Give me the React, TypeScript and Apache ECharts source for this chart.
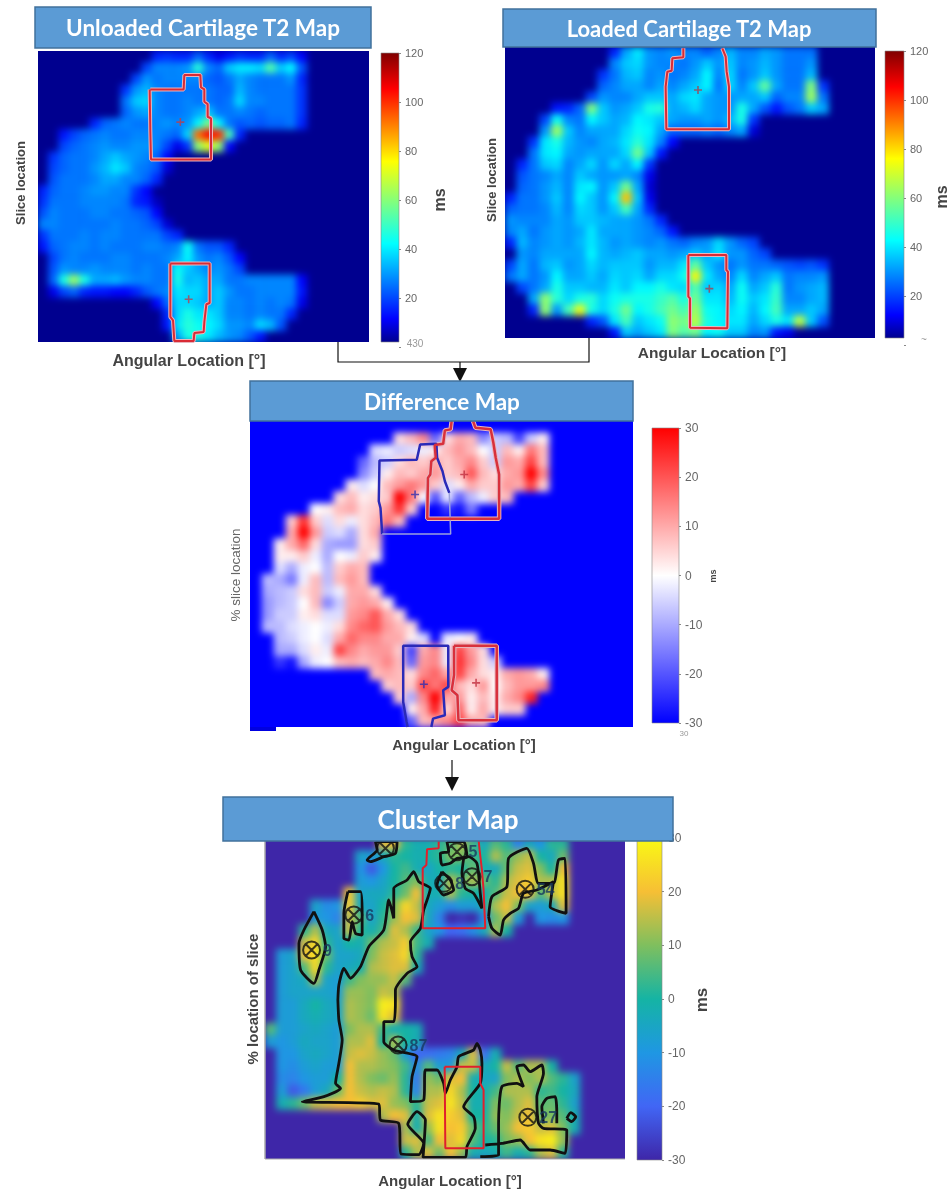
import React, { useEffect, useRef } from "react";
import * as echarts from "echarts";

const _ = null;
const COLS = 32;
const ROWS = 26;

const unloadedT2 = [
[_,_,_,_,_,_,_,_,_,_,_,14,16,14,14,22,14,8,12,16,14,14,22,14,18,10],
[_,_,_,_,_,_,_,_,_,_,18,26,26,26,28,46,26,22,34,38,38,36,52,34,40,20],
[_,_,_,_,_,_,_,_,_,18,28,24,26,26,26,26,22,20,24,30,26,24,24,24,28,14],
[_,_,_,_,_,_,_,_,16,28,32,26,24,24,24,24,24,22,22,32,26,24,24,24,24,16],
[_,_,_,_,_,_,_,_,24,34,36,26,24,24,26,24,24,22,24,36,26,26,24,24,24,16],
[_,_,_,_,_,_,_,_,22,28,30,26,24,24,26,30,34,24,24,26,24,22,24,24,24,16],
[_,_,_,_,_,14,22,24,26,24,24,26,28,26,28,40,58,40,24,20,22,20,22,22,24,14],
[_,_,12,18,22,24,26,24,24,26,26,26,24,22,36,92,104,100,50,14],
[_,_,18,22,24,26,28,26,26,28,28,26,18,8,16,60,72,60,10],
[_,16,22,24,24,26,30,34,30,28,26,22,10],
[_,18,22,24,24,28,32,38,34,26,24,20,6],
[_,20,24,24,24,26,30,30,26,26,22,14],
[14,22,24,24,26,28,28,26,26,16,10],
[16,24,24,24,26,26,26,26,24,14,12,4],
[20,26,24,24,24,26,26,24,24,22,20,10],
[26,26,24,24,24,24,24,26,24,24,22,18,6],
[16,24,24,24,26,24,26,26,24,24,24,24,18,14],
[12,22,24,26,26,24,26,24,24,24,26,26,24,26,42,24,20,20,14],
[_,18,24,26,24,24,24,26,26,24,24,24,26,30,40,28,24,26,20,10],
[_,20,28,26,26,28,26,26,26,24,26,24,24,42,34,30,26,28,24,18],
[_,22,44,62,44,30,30,32,28,26,26,24,24,44,32,34,30,30,24,24,26,26,26,26,26,10],
[_,8,18,22,14,12,12,10,10,14,20,24,26,38,36,36,30,34,28,24,24,26,26,26,26,12],
[_,_,_,_,_,_,_,_,_,_,_,10,22,36,36,34,30,34,26,26,24,26,24,26,24,8],
[_,_,_,_,_,_,_,_,_,_,_,_,14,36,44,38,38,34,26,26,24,26,24,24,14],
[_,_,_,_,_,_,_,_,_,_,_,_,12,38,46,42,40,36,28,28,26,36,32,20],
[_,_,_,_,_,_,_,_,_,_,_,_,_,30,44,44,38,32,28,26,20,12],
];

const loadedT2 = [
[_,_,_,_,_,_,_,_,_,14,30,38,28,26,28,26,26,22,26,32,26,26,30,28,24,24,24],
[_,_,_,_,_,_,_,_,_,26,34,36,28,26,26,24,28,34,28,34,26,28,32,28,24,24,28],
[_,_,_,_,_,_,_,_,16,24,32,34,26,28,24,26,30,40,26,36,24,28,34,28,24,24,32],
[_,_,_,_,_,_,_,_,22,26,30,30,26,30,26,30,34,40,24,36,26,34,54,30,24,24,58,16],
[_,_,_,_,_,_,_,18,28,26,26,30,34,34,30,36,38,30,28,28,30,30,34,22,26,26,62,24],
[_,_,_,_,12,14,22,58,34,28,30,34,44,46,30,32,36,30,28,28,44,30,20,12,20,24,34,30],
[_,_,_,18,42,26,24,40,34,30,32,40,38,34,30,28,28,30,28,32,44,16],
[_,_,_,28,62,34,26,30,30,30,36,42,40,30,22,22,22,24,22,26,30,6],
[_,_,16,38,44,32,28,26,30,32,38,46,38,26,10],
[_,_,24,38,40,30,28,30,30,30,36,56,34,12],
[_,14,24,34,36,26,30,36,28,36,30,40,16],
[_,20,24,26,30,26,34,30,28,28,30,26,8],
[_,22,24,28,32,26,38,40,28,34,56,30,6],
[14,24,24,28,34,26,40,34,28,40,82,34,8],
[22,24,24,26,32,26,36,34,28,34,50,30,14],
[28,26,26,26,30,28,34,34,32,30,30,28,24,14],
[26,30,24,28,30,28,30,38,30,30,30,28,26,22,12],
[14,32,26,28,30,28,32,38,32,28,30,28,26,28,24,22,26,28,36,28,22,18],
[_,28,26,30,30,30,30,40,32,30,32,34,30,30,28,30,34,30,38,28,28,22,18],
[18,30,24,32,34,28,30,36,32,34,34,34,28,32,32,38,54,34,28,24,28,24,24,22,20,18,20,16],
[24,30,24,28,40,30,30,34,30,36,34,36,30,36,36,42,76,38,30,26,36,26,30,34,24,26,26,28],
[_,18,24,30,44,34,34,32,32,38,34,40,40,44,38,36,52,34,36,30,42,30,34,46,24,28,30,32],
[_,_,30,60,46,36,44,46,36,42,44,44,44,48,52,44,56,38,38,32,42,34,38,48,26,26,30,32],
[_,_,14,60,28,50,72,44,36,44,56,40,44,50,56,50,62,42,40,36,40,32,40,50,30,30,34,30],
[_,_,_,_,_,_,_,14,20,38,50,34,38,42,60,56,66,44,40,38,38,30,36,44,38,66,34,20],
[_,_,_,_,_,_,_,_,_,12,34,30,34,38,58,52,56,40,42,34,34,26,28,12,8],
];

const differenceMs = [
[],
[_,_,_,_,_,_,_,_,_,_,_,_,4,8,14,-18,4,10,8,-14,-6,-8,-22,-6,2],
[_,_,_,_,_,_,_,_,_,_,-4,-2,-6,-4,-2,2,8,12,8,0,-6,8,2,16,8],
[_,_,_,_,_,_,_,_,_,-18,-8,-6,4,8,6,10,6,10,14,6,-6,12,10,22,8],
[_,_,_,_,_,_,_,_,_,-14,-6,2,8,6,10,12,6,8,20,8,4,10,12,30,14],
[_,_,_,_,_,_,_,_,2,-4,0,8,12,16,12,6,-4,2,10,6,6,12,10,22,6],
[_,_,_,_,_,_,_,4,8,2,4,6,30,16,0,-20,-2,-18,-8,-2,6,8],
[_,_,_,_,_,0,2,8,10,4,6,12,24,6,_,-30,-24,-28,-16,_,_],
[_,_,_,6,24,6,-4,4,-2,4,8,16,8],
[_,_,_,10,30,12,-6,-4,-10,4,10],
[_,_,2,10,18,4,-10,-12,-12,4,6],
[_,_,2,2,6,-2,-10,0,-2,6,2],
[_,_,-4,-10,-2,0,-8,6,10,8],
[_,-8,-10,-16,-2,8,-8,8,12,8],
[_,-10,-8,-6,4,8,-6,-2,10,10,4],
[_,-12,-8,-6,0,8,-14,-6,10,12,10,2],
[_,-12,-6,-6,2,4,-4,-4,12,14,20,10,4],
[_,-8,-8,-4,-2,0,-2,4,14,18,20,12,8,4],
[_,_,-8,-6,-2,0,-4,10,18,14,14,10,10,2,-4,_,-2,0,2],
[_,_,-10,-10,-4,2,-2,22,14,10,12,12,6,-22,10,14,-2,22,12,4],
[_,_,-24,-28,-10,-2,0,8,10,8,10,14,8,-18,12,14,-2,24,14,4,-6],
[_,_,_,_,_,_,_,_,_,_,8,10,8,4,14,18,10,22,10,4,2,10,12,10,2],
[_,_,_,_,_,_,_,_,_,_,_,6,8,6,22,16,22,8,4,12,0,8,12,12,14],
[_,_,_,_,_,_,_,_,_,_,_,_,6,-10,14,30,10,12,2,8,2,10,14,26],
[_,_,_,_,_,_,_,_,_,_,_,_,_,2,10,26,4,18,2,10,2,6,6],
[_,_,_,_,_,_,_,_,_,_,_,_,_,-18,8,10,14,22,10,8],
];

const clusterMs = [
[_,_,_,_,_,_,_,_,_,_,18,20,2,-2,-2,2,6,14,4,-4,6,2,-14,-4,-10,2,2],
[_,_,_,_,_,_,_,_,-6,-8,-4,2,0,-2,0,2,10,10,4,0,14,6,12,16,0,-4,8],
[_,_,_,_,_,_,_,_,-10,-22,-10,0,4,-2,-6,0,2,0,8,-2,-4,8,16,18,10,0,20],
[_,_,_,_,_,_,_,_,-8,-10,-6,0,6,10,-2,-4,14,8,14,8,2,14,18,22,14,14,26],
[_,_,_,_,_,_,_,22,-6,-4,-4,2,8,20,-2,-2,14,2,0,-2,6,16,20,20,6,16,26],
[_,_,_,_,-6,-12,-10,22,-4,-6,0,10,24,16,-4,-8,-12,-8,-8,-2,14,20,10,-6,-8,-4,18],
[_,_,_,_,-8,-10,-14,16,6,-6,2,12,20,18,-4,-14,-30,-28,-30,-12,8,16,-8,_,-10,-12,-10],
[_,_,_,2,14,-4,-6,16,2,-2,4,18,14,4,-6,-10,-20,-18,-12,-4,14,0],
[_,_,_,16,24,2,-6,0,-2,8,14,16,22,4,-2],
[_,-8,-6,20,26,8,-6,-6,-4,10,16,18,24,2],
[_,-8,-6,6,24,2,-6,-4,-2,14,16,18,18,-2],
[_,-8,-6,-4,14,-6,-8,4,10,12,12,16,6],
[_,-8,-6,-6,-6,-6,-8,12,12,10,16,14],
[_,-8,-8,-4,0,-4,-6,14,12,10,28,26],
[_,-8,-8,-4,-2,-4,-6,14,12,8,26,18],
[6,-8,-8,-6,-4,-6,-8,10,14,14,4,-2,0,-2],
[-8,-10,-8,-4,-6,-6,-8,14,14,18,0,14,0,-2],
[_,-10,-10,-6,-4,-6,-8,16,18,16,12,8,-8,-20,-18,-16,-14,-4,18,-18,-2],
[_,-10,-12,-8,-6,-8,-8,20,14,14,12,10,4,-12,6,-8,-8,16,16,-4,0,16,6,14,14,0],
[_,-12,-14,-10,-8,-8,0,20,14,10,8,12,2,-16,12,8,18,20,-2,-4,-6,10,14,10,14,6,2,-6],
[_,-8,-22,-16,-8,-4,8,20,16,14,16,14,2,-14,14,14,24,14,0,-2,4,14,14,14,2,4,0,-4],
[_,-2,2,8,16,18,20,20,22,18,18,12,10,2,16,18,26,16,-2,-2,10,8,14,18,6,8,2,-6],
[_,_,_,_,_,_,_,_,_,_,14,20,18,-2,18,26,22,18,0,0,12,10,16,20,8,10,6,-2],
[_,_,_,_,_,_,_,_,_,_,_,_,14,-2,12,26,20,22,8,2,8,12,20,22,16,18,10,-2],
[_,_,_,_,_,_,_,_,_,_,_,_,16,18,4,20,18,24,6,0,2,10,12,20,26,28,12],
[_,_,_,_,_,_,_,_,_,_,_,_,2,14,18,8,20,12,-2,-4,-2,4,-2,2,14,18,2],
];

const jetColors = ["#00008f", "#0000ff", "#00ffff", "#ffff00", "#ff0000", "#800000"];
const jetStops = [0, 0.08, 0.34, 0.625, 0.875, 1];
const divergingColors = ["#0000ff", "#ffffff", "#ff0000"];
const divergingStops = [0, 0.5, 1];
const parulaColors = ["#3e26a8", "#4166f5", "#1f97e3", "#15b4a4", "#7fbf5e", "#f6bf35", "#f9f914"];
const parulaStops = [0, 0.167, 0.333, 0.5, 0.667, 0.833, 1];

const unloadedRoiA = [[450,268],[550,268],[552,225],[600,225],[602,262],[612,268],[612,305],[622,312],[622,350],[632,355],[632,478],[452,478],[450,395],[448,268],[450,268]];
const unloadedRoiB = [[510,790],[628,790],[628,908],[618,912],[612,965],[610,995],[582,998],[580,1022],[522,1022],[518,960],[510,950],[510,790]];
const unloadedCentres = [[540,366],[565,897]];
const loadedRoiA = [[628,145],[628,172],[595,175],[593,212],[580,215],[575,260],[577,388],[765,388],[765,260],[758,215],[755,170],[745,145]];
const loadedRoiB = [[643,765],[757,765],[757,810],[762,815],[760,985],[648,983],[648,895],[643,890],[643,765]];
const loadedCentres = [[672,270],[706,866]];
const diffBlueA = [[708,355],[695,320],[688,290],[672,250],[670,208],[622,210],[612,256],[502,258],[500,380],[505,400],[510,478]];
const diffBlueAFaint = [[510,478],[712,478],[708,355]];
const diffRedA = [[715,140],[712,165],[695,168],[690,208],[665,212],[668,250],[655,260],[652,300],[645,310],[643,432],[855,432],[855,300],[845,250],[838,205],[830,165],[785,160],[778,140]];
const diffBlueB = [[585,1055],[582,1040],[572,980],[572,812],[705,812],[705,935],[690,945],[695,1020],[660,1030],[655,1055]];
const diffRedB = [[722,812],[848,812],[848,1035],[735,1035],[732,960],[715,945],[722,900],[722,812]];
const diffBlueCentres = [[607,360],[633,927]];
const diffRedCentres = [[752,300],[787,923]];
const clusterRoiA = [[685,150],[685,175],[650,178],[648,225],[637,235],[637,415],[825,415],[820,300],[815,240],[808,180],[805,150]];
const clusterRoiB = [[703,830],[810,830],[810,880],[820,900],[820,1075],[705,1075],[703,830]];
const clusterContours = [
  [[382,630],[385,585],[400,535],[420,565],[450,530],[475,470],[520,420],[535,330],[550,385],[550,295],[590,270],[610,245],[625,275],[645,285],[660,295],[640,360],[630,415],[600,455],[605,500],[620,530],[590,550],[555,600],[555,630],[550,695],[520,695],[520,755],[550,780],[620,800],[605,860],[600,935],[640,930],[645,840],[680,840],[700,880],[705,910],[720,870],[740,830],[745,800],[790,780],[800,760],[810,780],[815,820],[810,880],[760,950],[790,980],[795,1015],[770,1070],[765,1102],[638,1102],[645,990],[620,965],[592,1003],[640,1060],[625,1094],[572,1092],[565,1000],[510,990],[505,942],[275,935],[340,920],[390,895],[375,880],[385,820],[395,750],[385,690],[382,630]],
  [[810,1100],[865,1095],[865,1000],[875,890],[920,880],[940,890],[920,830],[940,825],[960,845],[995,825],[1000,850],[980,920],[985,1000],[1000,1015],[1070,1020],[1065,1090],[1020,1080],[960,1080],[930,1050],[875,1060],[825,1065]],
  [[1000,1000],[995,950],[1010,925],[1035,920],[1040,970],[1040,1000]],
  [[1070,985],[1082,968],[1097,980],[1085,995],[1070,985]],
  [[835,380],[845,320],[890,290],[895,205],[950,175],[970,220],[985,280],[1030,280],[1045,210],[1065,205],[1068,370],[1020,350],[1030,275],[980,300],[940,310],[925,355],[900,370],[880,390],[870,435],[845,415],[835,380]],
  [[310,365],[335,420],[345,470],[325,540],[310,580],[270,540],[265,460],[280,420],[310,365]],
  [[412,305],[450,305],[455,370],[455,435],[435,430],[425,395],[415,450],[400,445],[400,370],[412,305]],
  [[495,155],[560,155],[555,190],[520,200],[480,215],[470,210],[500,180],[495,155]],
  [[710,155],[760,155],[770,200],[740,205],[720,220],[695,225],[690,190],[715,185],[710,155]],
  [[695,245],[720,270],[730,300],[700,315],[680,285],[695,245]],
  [[760,205],[775,200],[800,220],[810,310],[815,355],[790,310],[765,295],[755,250],[760,205]],
];
const clusterMarkers = [
  [525,175,""],[740,185,"5"],[700,280,"8"],[785,260,"7"],[945,298,"54"],
  [430,375,"6"],[303,480,"9"],[563,765,"87"],[953,982,"27"],
];

const mapFrames = [
  { left: 38, top: 51, width: 331, height: 291, base: "#00008f", min: 0, max: 120, colors: jetColors, stops: jetStops, data: unloadedT2, x: [113,1106], y: [153,1025] },
  { left: 505, top: 47, width: 370, height: 291, base: "#00008f", min: 0, max: 120, colors: jetColors, stops: jetStops, data: loadedT2, x: [93,1203], y: [141,1014] },
  { left: 250, top: 421, width: 383, height: 306, base: "#0000ff", min: -30, max: 30, colors: divergingColors, stops: divergingStops, data: differenceMs, x: [120,1250], y: [140,1055] },
  { left: 265, top: 838, width: 360, height: 321, base: "#3e26a8", min: -30, max: 30, colors: parulaColors, stops: parulaStops, data: clusterMs, x: [163,1245], y: [144,1107] },
];
const colorBars = [
  { left: 381, top: 53, width: 18, height: 294, shown: 289, min: 0, max: 120, interval: 20, colors: jetColors, stops: jetStops, labelSize: 11 },
  { left: 885, top: 51, width: 19, height: 294, shown: 287, min: 0, max: 120, interval: 20, colors: jetColors, stops: jetStops, labelSize: 11 },
  { left: 652, top: 428, width: 27, height: 295, shown: 295, min: -30, max: 30, interval: 10, colors: divergingColors, stops: divergingStops, labelSize: 12 },
  { left: 637, top: 838, width: 25, height: 322, shown: 322, min: -30, max: 30, interval: 10, colors: parulaColors, stops: parulaStops, labelSize: 12 },
];
const titles = [
  { text: "Unloaded Cartilage T2 Map", left: 35, top: 7, width: 336, height: 41, cx: 203, size: 22.5 },
  { text: "Loaded Cartilage T2 Map", left: 503, top: 9, width: 373, height: 38, cx: 689, size: 22 },
  { text: "Difference Map", left: 250, top: 381, width: 383, height: 40, cx: 442, size: 22.5 },
  { text: "Cluster Map", left: 223, top: 797, width: 450, height: 44, cx: 448, size: 26 },
];
const xNames = [
  { text: "Angular Location [°]", x: 189, y: 360, size: 16 },
  { text: "Angular Location [°]", x: 712, y: 352, size: 15.5 },
  { text: "Angular Location [°]", x: 464, y: 744, size: 15 },
  { text: "Angular Location [°]", x: 450, y: 1180, size: 15 },
];
const yNames = [
  { text: "Slice location", x: 20, y: 183, size: 13, weight: "bold", fill: "#444" },
  { text: "Slice location", x: 491, y: 180, size: 13, weight: "bold", fill: "#444" },
  { text: "% slice location", x: 235, y: 575, size: 13.5, weight: "normal", fill: "#666" },
  { text: "% location of slice", x: 252, y: 999, size: 15, weight: "bold", fill: "#444" },
];
const unitNames = [
  { text: "ms", x: 439, y: 200, size: 16 },
  { text: "ms", x: 941, y: 197, size: 16 },
  { text: "ms", x: 713, y: 576, size: 9 },
  { text: "ms", x: 701, y: 1000, size: 17 },
];
const strayLabels = [
  { text: "430", x: 415, y: 343, size: 10 },
  { text: "~", x: 924, y: 339, size: 10 },
  { text: "30", x: 684, y: 733, size: 8 },
];

const FONT = "'Liberation Sans', Arial, sans-serif";

// visualMap spaces its colours evenly, so unevenly spaced stops are resampled onto an even ramp.
function sampleStops(colors: string[], stops: number[]) {
  const out: string[] = [];
  const n = 48;
  for (let i = 0; i <= n; i++) {
    const t = i / n;
    let k = 0;
    while (k < stops.length - 2 && t > stops[k + 1]) k++;
    const f = (t - stops[k]) / (stops[k + 1] - stops[k]);
    out.push(echarts.color.lerp(f, [colors[k], colors[k + 1]]) as string);
  }
  return out;
}

function heatOption() {
  const series: any[] = [];
  const visualMap: any[] = [];
  const grid: any[] = [];
  const xAxis: any[] = [];
  const yAxis: any[] = [];
  const graphic: any[] = [];
  const cols = Array.from({ length: COLS }, (_v, i) => i);
  const rows = Array.from({ length: ROWS }, (_v, i) => i);
  mapFrames.forEach((m, i) => {
    grid.push({ left: m.left, top: m.top, width: m.width, height: m.height });
    xAxis.push({ gridIndex: i, type: "category", data: cols, show: false });
    yAxis.push({ gridIndex: i, type: "category", data: rows, inverse: true, show: false });
    graphic.push({ type: "rect", z: 0, shape: { x: m.left - 14, y: m.top - 14, width: m.width + 28, height: m.height + 28 }, style: { fill: m.base } });
    const cells: number[][] = [];
    m.data.forEach((row: any[], r: number) => row.forEach((v, c) => { if (v !== null) cells.push([c, r, v]); }));
    series.push({ type: "heatmap", xAxisIndex: i, yAxisIndex: i, data: cells, z: 5, progressive: 0, itemStyle: { borderWidth: 0 } });
    visualMap.push({
      type: "continuous", show: false, seriesIndex: i, dimension: 2, min: m.min, max: m.max,
      inRange: { color: sampleStops(m.colors, m.stops) },
    });
  });
  return { animation: false, grid, xAxis, yAxis, series, visualMap, graphic, tooltip: { show: false } };
}

function overlayOption() {
  const series: any[] = [];
  const grid: any[] = [];
  const xAxis: any[] = [];
  const yAxis: any[] = [];
  const graphic: any[] = [];

  mapFrames.forEach((m, i) => {
    grid.push({ left: m.left, top: m.top, width: m.width, height: m.height });
    xAxis.push({ gridIndex: i, type: "value", min: m.x[0], max: m.x[1], show: false });
    yAxis.push({ gridIndex: i, type: "value", min: m.y[0], max: m.y[1], inverse: true, show: false });
  });
  colorBars.forEach((b, j) => {
    const i = j + 4;
    grid.push({ left: b.left, top: b.top, width: b.width, height: b.height });
    xAxis.push({ gridIndex: i, type: "value", min: 0, max: 1, show: false });
    yAxis.push({
      gridIndex: i, type: "value", position: "right", min: b.min, max: b.max, interval: b.interval,
      splitLine: { show: false }, axisLine: { show: false, onZero: false },
      axisTick: { show: true, inside: false, length: 2, lineStyle: { color: "#888" } },
      axisLabel: { color: "#666", fontFamily: FONT, fontSize: b.labelSize, margin: 6, formatter: (v: number) => (b.min === 0 && v === 0 ? "" : String(v)) },
    });
    graphic.push({
      type: "rect", z: 1,
      shape: { x: b.left, y: b.top, width: b.width, height: b.shown },
      style: {
        stroke: "#888", lineWidth: 0.6,
        fill: new echarts.graphic.LinearGradient(0, 1, 0, 0, b.colors.map((color, k) => ({ offset: b.stops[k], color }))),
      },
    });
  });

  const addLine = (idx: number, pts: number[][], color: string, width: number, halo?: string, smooth = 0) => {
    if (halo) series.push({ type: "line", xAxisIndex: idx, yAxisIndex: idx, data: pts, symbol: "none", silent: true, lineStyle: { color: halo, width: width + 2 }, z: 3 });
    series.push({ type: "line", xAxisIndex: idx, yAxisIndex: idx, data: pts, symbol: "none", silent: true, smooth, lineStyle: { color, width }, z: 4 });
  };
  const addCentres = (idx: number, pts: number[][], color: string) => {
    series.push({
      type: "scatter", xAxisIndex: idx, yAxisIndex: idx, data: pts, z: 6, symbolSize: 8,
      symbol: "path://M-1 -5h2v4h4v2h-4v4h-2v-4h-4v-2h4z", itemStyle: { color },
    });
  };
  const RED = "#d92b35";
  const HALO = "#e9b4bc";
  addLine(0, unloadedRoiA, RED, 2, HALO);
  addLine(0, unloadedRoiB, RED, 2, HALO);
  addCentres(0, unloadedCentres, "#b8404f");
  addLine(1, loadedRoiA, RED, 2, HALO);
  addLine(1, loadedRoiB, RED, 2, HALO);
  addCentres(1, loadedCentres, "#a84050");
  addLine(2, diffBlueA, "#2a2ab8", 2.5);
  addLine(2, diffBlueAFaint, "#9aa0dd", 1.5);
  addLine(2, diffRedA, "#d8303c", 2.5, HALO);
  addLine(2, diffBlueB, "#2a2ab8", 2.5);
  addLine(2, diffRedB, "#d8303c", 2.5, HALO);
  addCentres(2, diffBlueCentres, "#3030b0");
  addCentres(2, diffRedCentres, "#c03040");
  clusterContours.forEach((c) => addLine(3, c, "#111111", 2.8, undefined, 0.2));
  addLine(3, clusterRoiA, "#e0202c", 2);
  addLine(3, clusterRoiB, "#e0202c", 2);
  series.push({
    type: "scatter", xAxisIndex: 3, yAxisIndex: 3, data: clusterMarkers, z: 7, symbolSize: 17,
    symbol: "path://M0 -10A10 10 0 1 1 0 10A10 10 0 1 1 0 -10ZM-7 -7L7 7M-7 7L7 -7",
    itemStyle: { color: "transparent", borderColor: "#111", borderWidth: 2 },
    label: {
      show: true, position: "right", distance: 2, fontFamily: FONT, fontSize: 16, fontWeight: "bold", color: "#16385f",
      formatter: (p: any) => p.data[2],
    },
  });

  titles.forEach((t) => {
    graphic.push({ type: "rect", z: 100, shape: { x: t.left, y: t.top, width: t.width, height: t.height }, style: { fill: "#5b9bd5", stroke: "#41719c", lineWidth: 1.5 } });
    graphic.push({ type: "text", z: 101, x: t.cx, y: t.top + t.height / 2, style: { text: t.text, fill: "#ffffff", font: `bold ${t.size}px Lato, sans-serif`, align: "center", verticalAlign: "middle" } });
  });
  xNames.forEach((n) => graphic.push({ type: "text", z: 50, x: n.x, y: n.y, style: { text: n.text, fill: "#444", font: `bold ${n.size}px ${FONT}`, align: "center", verticalAlign: "middle" } }));
  yNames.forEach((n) => graphic.push({ type: "text", z: 50, x: n.x, y: n.y, rotation: Math.PI / 2, style: { text: n.text, fill: n.fill, font: `${n.weight} ${n.size}px ${FONT}`, align: "center", verticalAlign: "middle" } }));
  unitNames.forEach((n) => graphic.push({ type: "text", z: 50, x: n.x, y: n.y, rotation: Math.PI / 2, style: { text: n.text, fill: "#444", font: `bold ${n.size}px ${FONT}`, align: "center", verticalAlign: "middle" } }));
  strayLabels.forEach((n) => graphic.push({ type: "text", z: 50, x: n.x, y: n.y, style: { text: n.text, fill: "#999", font: `${n.size}px ${FONT}`, align: "center", verticalAlign: "middle" } }));

  const wire = { stroke: "#111", lineWidth: 1.2, fill: "none" };
  graphic.push({ type: "polyline", z: 60, shape: { points: [[338,342],[338,362],[589,362],[589,338]] }, style: wire });
  graphic.push({ type: "line", z: 60, shape: { x1: 460, y1: 362, x2: 460, y2: 370 }, style: wire });
  graphic.push({ type: "polygon", z: 60, shape: { points: [[453,368],[467,368],[460,382]] }, style: { fill: "#111" } });
  graphic.push({ type: "line", z: 60, shape: { x1: 452, y1: 760, x2: 452, y2: 780 }, style: wire });
  graphic.push({ type: "polygon", z: 60, shape: { points: [[445,777],[459,777],[452,791]] }, style: { fill: "#111" } });
  graphic.push({ type: "rect", z: 60, shape: { x: 250, y: 727, width: 26, height: 4 }, style: { fill: "#0000e0" } });
  graphic.push({ type: "line", z: 60, shape: { x1: 265, y1: 840, x2: 265, y2: 1159 }, style: { stroke: "#aaa", lineWidth: 1.5 } });
  graphic.push({ type: "line", z: 60, shape: { x1: 265, y1: 1159, x2: 625, y2: 1159 }, style: { stroke: "#aaa", lineWidth: 1 } });

  return { animation: false, grid, xAxis, yAxis, series, graphic, tooltip: { show: false } };
}

export default function App() {
  const baseRef = useRef<HTMLDivElement>(null);
  const topRef = useRef<HTMLDivElement>(null);
  useEffect(() => {
    document.body.style.margin = "0";
    const base = echarts.init(baseRef.current!, undefined, { renderer: "svg" });
    const top = echarts.init(topRef.current!, undefined, { renderer: "svg" });
    base.setOption(heatOption());
    top.setOption(overlayOption());
    return () => {
      base.dispose();
      top.dispose();
    };
  }, []);
  const layer: React.CSSProperties = { position: "absolute", left: 0, top: 0, width: 948, height: 1190 };
  return (
    <div style={{ position: "relative", width: 948, height: 1190, background: "#fff", overflow: "hidden" }}>
      <div
        ref={baseRef}
        style={{
          ...layer,
          filter: "blur(3.5px)",
          clipPath: "path('M38 51H369V342H38Z M505 47H875V338H505Z M250 421H633V727H250Z M265 838H625V1159H265Z')",
        }}
      />
      <div ref={topRef} style={{ ...layer, filter: "blur(0.4px)" }} />
    </div>
  );
}
